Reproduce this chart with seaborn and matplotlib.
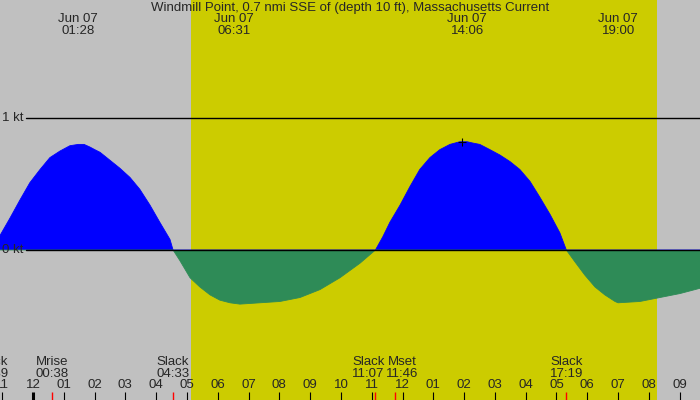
import numpy as np
import matplotlib
matplotlib.use("Agg")
import matplotlib.pyplot as plt
import seaborn as sns

# =====================
# DATA
# =====================
title = "Windmill Point, 0.7 nmi SSE of (depth 10 ft), Massachusetts Current"

# hours from midnight Jun 07 (negative = Jun 06)
times = [-1.07, -0.75, -0.42, -0.10, 0.23, 0.55, 0.88, 1.20, 1.47, 1.66, 1.85, 2.01,
         2.18, 2.50, 2.82, 3.15, 3.47, 3.80, 4.12, 4.45, 4.55,
         4.77, 5.10, 5.42, 5.75, 6.07, 6.40, 6.72, 7.37, 8.02, 8.67, 9.32, 9.97,
         10.62, 11.12,
         11.36, 11.59, 11.92, 12.24, 12.56, 12.89, 13.21, 13.54, 13.70, 13.86, 14.10,
         14.29, 14.51, 14.84, 15.16, 15.49, 15.81, 16.14, 16.46, 16.79, 17.11, 17.32,
         17.60, 17.92, 18.25, 18.57, 18.90, 19.00, 19.71, 20.36, 21.01, 21.66]
speeds = [0.11, 0.24, 0.38, 0.51, 0.61, 0.70, 0.75, 0.79, 0.80, 0.80, 0.78, 0.76,
          0.74, 0.68, 0.62, 0.55, 0.46, 0.34, 0.21, 0.08, 0.0,
          -0.08, -0.21, -0.28, -0.34, -0.38, -0.40, -0.41, -0.40, -0.39, -0.36, -0.30, -0.21,
          -0.10, 0.0,
          0.10, 0.21, 0.34, 0.48, 0.61, 0.70, 0.76, 0.80, 0.81, 0.82, 0.82,
          0.81, 0.80, 0.76, 0.72, 0.67, 0.61, 0.52, 0.40, 0.27, 0.13, 0.0,
          -0.09, -0.19, -0.28, -0.34, -0.39, -0.40, -0.39, -0.36, -0.33, -0.29]

# max flood / max ebb labels on top
peak_dates = ["Jun 07", "Jun 07", "Jun 07", "Jun 07"]
peak_times = ["01:28", "06:31", "14:06", "19:00"]

# slack water and moon events along the bottom
event_names = ["Slack", "Mrise", "Slack", "Slack", "Mset", "Slack"]
event_times = ["-01:21", "00:38", "04:33", "11:07", "11:46", "17:19"]
event_shown = ["22:39", "00:38", "04:33", "11:07", "11:46", "17:19"]

sunrise = "05:08"
sunset = "20:16"

mark_time = 13.92
mark_speed = 0.82

x_start, x_end = -1.07, 21.66
hours = list(range(-1, 22))


def to_hours(s):
    neg = s.startswith("-")
    h, m = s.lstrip("-").split(":")
    v = int(h) + int(m) / 60
    return -v if neg else v


# =====================
# STYLE
# =====================
sns.set_theme(style="white")
plt.rcParams["font.family"] = ["Liberation Sans", "DejaVu Sans"]
plt.rcParams["font.size"] = 9.5

GRAY = "#c0c0c0"
DAY = "#cccc00"
FLOOD = "#0000ff"
EBB = "#2e8b57"

fig = plt.figure(figsize=(7, 4), dpi=100, facecolor=GRAY)
ax = fig.add_axes([0, 0, 1, 1])
ax.set_facecolor(GRAY)
for sp in ax.spines.values():
    sp.set_visible(False)
ax.set_xticks([])
ax.set_yticks([])

# 0 kt at 250 px, 1 kt at 118 px (132 px per knot)
ax.set_xlim(x_start, x_end)
ax.set_ylim(-150 / 132, 250 / 132)

# daylight
ax.axvspan(to_hours(sunrise), to_hours(sunset), color=DAY, lw=0, zorder=0)

t = np.array(times)
v = np.array(speeds)
ax.fill_between(t, 0, v, where=v >= 0, interpolate=True, color=FLOOD, lw=0, zorder=2)
ax.fill_between(t, 0, v, where=v <= 0, interpolate=True, color=EBB, lw=0, zorder=2)
sns.lineplot(x=t, y=np.clip(v, 0, None), ax=ax, color=FLOOD, lw=0.6, sort=False, zorder=2)
sns.lineplot(x=t, y=np.clip(v, None, 0), ax=ax, color=EBB, lw=0.6, sort=False, zorder=2)

# reference lines
ax.axhline(1, xmin=26 / 700, color="black", lw=1, zorder=3)
ax.axhline(0, xmin=26 / 700, color="black", lw=1, zorder=3)
ax.text(2 / 700, 1, "1 kt", transform=ax.get_yaxis_transform(), ha="left", va="center")
ax.text(2 / 700, 0, "0 kt", transform=ax.get_yaxis_transform(), ha="left", va="center")

ax.plot([mark_time], [mark_speed], marker="+", ms=6, mew=0.8, color="black", zorder=4)

trans = ax.get_xaxis_transform()
ax.text(0.5, 1 - 8 / 400, title, transform=ax.transAxes, ha="center", va="center")
for d, tm in zip(peak_dates, peak_times):
    ax.text(to_hours(tm), 1 - 19 / 400, d, transform=trans, ha="center", va="center")
    ax.text(to_hours(tm), 1 - 31 / 400, tm, transform=trans, ha="center", va="center")

# hour ticks
px_per_hour = 700 / (x_end - x_start)
for h in hours:
    lab = h % 12
    lab = 12 if lab == 0 else lab
    ax.text(h, 1 - 385 / 400, "%02d" % lab, transform=trans, ha="center", va="center")
    ax.vlines(h, 0, 8 / 400, transform=trans, color="black",
              lw=2.2 if h % 24 == 0 else 0.8, zorder=3)

# events: ticks at the true time, labels nudged apart when they crowd
ev_x = [to_hours(s) for s in event_times]
lab_x = list(ev_x)
min_gap = 34 / px_per_hour
for i in range(1, len(lab_x)):
    gap = lab_x[i] - lab_x[i - 1]
    if gap < min_gap:
        shift = (min_gap - gap) / 2
        lab_x[i - 1] -= shift
        lab_x[i] += shift
for name, shown, x, lx in zip(event_names, event_shown, ev_x, lab_x):
    ax.vlines(x, 0, 8 / 400, transform=trans, color="red", lw=1, zorder=3)
    ax.text(lx, 1 - 362 / 400, name, transform=trans, ha="center", va="center")
    ax.text(lx, 1 - 374 / 400, shown, transform=trans, ha="center", va="center")

fig.savefig("out.png", dpi=100, facecolor=GRAY)
